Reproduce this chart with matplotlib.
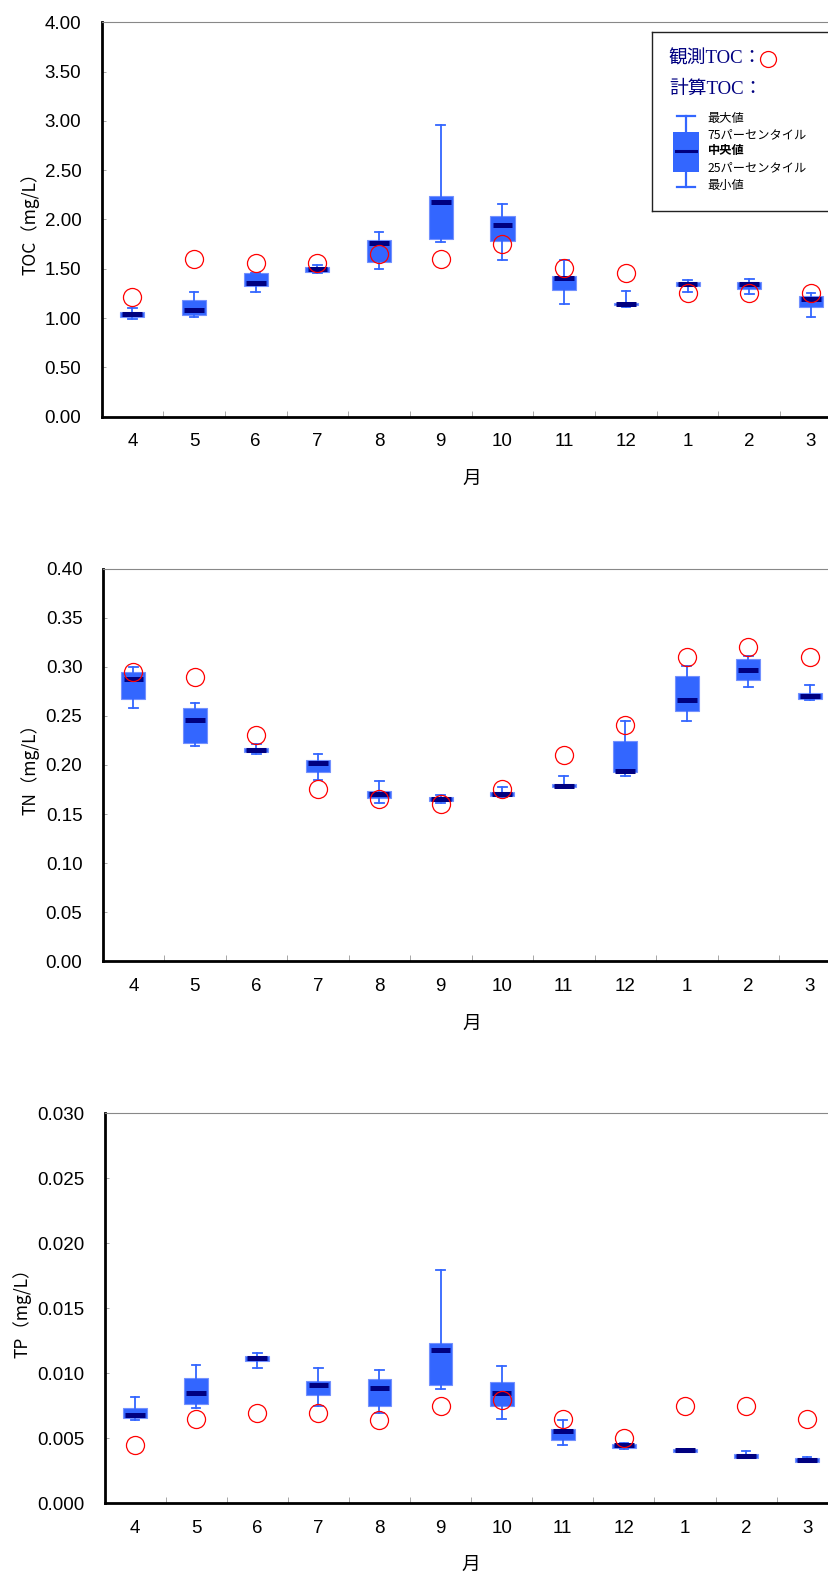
import numpy as np
import matplotlib
matplotlib.use('Agg')
import matplotlib.pyplot as plt
from matplotlib.patches import Rectangle

plt.rcParams['font.family'] = ['Liberation Sans', 'Noto Sans CJK JP']

months = ['4', '5', '6', '7', '8', '9', '10', '11', '12', '1', '2', '3']

# TOC (mg/L)
toc_max = [1.10, 1.26, 1.46, 1.535, 1.87, 2.96, 2.16, 1.59, 1.27, 1.39, 1.40, 1.25]
toc_q3 = [1.06, 1.18, 1.46, 1.52, 1.79, 2.24, 2.04, 1.43, 1.155, 1.37, 1.37, 1.22]
toc_med = [1.04, 1.08, 1.36, 1.495, 1.76, 2.18, 1.94, 1.41, 1.14, 1.35, 1.345, 1.19]
toc_q1 = [1.015, 1.03, 1.33, 1.47, 1.565, 1.805, 1.785, 1.28, 1.13, 1.33, 1.30, 1.11]
toc_min = [0.99, 1.01, 1.26, 1.46, 1.495, 1.77, 1.59, 1.14, 1.11, 1.265, 1.24, 1.01]
toc_obs = [1.21, 1.60, 1.555, 1.555, 1.655, 1.60, 1.755, 1.505, 1.46, 1.25, 1.25, 1.255]

# TN (mg/L)
tn_max = [0.300, 0.263, 0.221, 0.211, 0.184, 0.169, 0.178, 0.189, 0.245, 0.301, 0.311, 0.281]
tn_q3 = [0.295, 0.258, 0.217, 0.205, 0.173, 0.167, 0.172, 0.181, 0.224, 0.291, 0.308, 0.273]
tn_med = [0.287, 0.246, 0.215, 0.202, 0.170, 0.165, 0.170, 0.179, 0.194, 0.266, 0.297, 0.270]
tn_q1 = [0.267, 0.222, 0.213, 0.193, 0.166, 0.163, 0.168, 0.177, 0.1925, 0.255, 0.2865, 0.2675]
tn_min = [0.258, 0.219, 0.211, 0.185, 0.1615, 0.161, 0.167, 0.176, 0.189, 0.245, 0.279, 0.266]
tn_obs = [0.295, 0.290, 0.230, 0.175, 0.165, 0.160, 0.175, 0.210, 0.241, 0.310, 0.320, 0.310]

# TP (mg/L)
tp_max = [0.00818, 0.01066, 0.01156, 0.01041, 0.01028, 0.01795, 0.01056, 0.00643, 0.00466, 0.00420, 0.00405, 0.00356]
tp_q3 = [0.00731, 0.00964, 0.01131, 0.00943, 0.00954, 0.01235, 0.00933, 0.00572, 0.00458, 0.00420, 0.00380, 0.00351]
tp_med = [0.00677, 0.00846, 0.01115, 0.00908, 0.00887, 0.01177, 0.00846, 0.00554, 0.00446, 0.00408, 0.00364, 0.00333]
tp_q1 = [0.00659, 0.00766, 0.01097, 0.00831, 0.00748, 0.00908, 0.00749, 0.00487, 0.00423, 0.00392, 0.00350, 0.00318]
tp_min = [0.00640, 0.00736, 0.01038, 0.00751, 0.00697, 0.00877, 0.00646, 0.00446, 0.00415, 0.00392, 0.00350, 0.00318]
tp_obs = [0.00448, 0.00646, 0.00695, 0.00695, 0.00643, 0.00751, 0.00792, 0.00646, 0.00500, 0.00751, 0.00751, 0.00646]

BLUE = '#3366ff'
NAVY = '#000080'


def draw_panel(ax, lo, q1, med, q3, hi, obs, ymax, ystep, fmt, ylabel, ylab_x):
    pos = np.arange(len(months))
    stats = [dict(whislo=a, q1=b, med=c, q3=d, whishi=e)
             for a, b, c, d, e in zip(lo, q1, med, q3, hi)]
    ax.bxp(stats, positions=pos, widths=0.39, patch_artist=True, showfliers=False,
           capwidths=0.14,
           boxprops=dict(facecolor=BLUE, edgecolor='#7391ff', linewidth=0.8),
           whiskerprops=dict(color=BLUE, linewidth=1.3),
           capprops=dict(color=BLUE, linewidth=1.3),
           medianprops=dict(linewidth=0))
    ax.hlines(med, pos - 0.16, pos + 0.16, color=NAVY, linewidth=3.6, zorder=3)
    ax.plot(pos, obs, 'o', mfc='none', mec='red', ms=13, mew=0.9, zorder=4)

    ax.set_xlim(-0.5, len(months) - 0.5)
    ax.set_ylim(0, ymax)
    ticks = np.arange(0, ymax + ystep / 2, ystep)
    ax.set_yticks(ticks)
    ax.set_yticklabels([fmt.format(t) for t in ticks])
    ax.set_xticks(pos)
    ax.set_xticklabels(months)
    ax.set_xticks(pos[:-1] + 0.5, minor=True)
    ax.tick_params(axis='y', direction='in', length=3, width=0.6, color='#999999',
                   labelsize=13.5, pad=14.5)
    ax.tick_params(axis='x', which='major', length=0, labelsize=13.5, pad=12)
    ax.tick_params(axis='x', which='minor', direction='in', length=4, width=0.6,
                   color='#999999')

    ax.spines['left'].set_linewidth(2.0)
    ax.spines['bottom'].set_linewidth(2.0)
    ax.spines['top'].set_linewidth(0.8)
    ax.spines['top'].set_color('#888888')
    ax.spines['right'].set_visible(False)

    ax.set_ylabel(ylabel, fontsize=12.5, family='Noto Sans CJK JP')
    ax.yaxis.set_label_coords(ylab_x, 0.5)
    ax.set_xlabel('月', fontsize=13.5, family='Noto Sans CJK JP')
    ax.xaxis.set_label_coords(0.5, -0.131)


fig = plt.figure(figsize=(8.29, 15.78), dpi=100)
ax1 = fig.add_axes([0.12244, 0.73593, 0.89300, 0.24994])
ax2 = fig.add_axes([0.12376, 0.39081, 0.89011, 0.24892])
ax3 = fig.add_axes([0.12606, 0.04734, 0.88444, 0.24715])

draw_panel(ax1, toc_min, toc_q1, toc_med, toc_q3, toc_max, toc_obs,
           4.0, 0.5, '{:.2f}', 'TOC（mg/L）', -0.084)
draw_panel(ax2, tn_min, tn_q1, tn_med, tn_q3, tn_max, tn_obs,
           0.40, 0.05, '{:.2f}', 'TN（mg/L）', -0.085)
draw_panel(ax3, tp_min, tp_q1, tp_med, tp_q3, tp_max, tp_obs,
           0.030, 0.005, '{:.3f}', 'TP（mg/L）', -0.099)

# legend panel
lax = ax1.inset_axes([0.743, 0.522, 0.257, 0.453])
lax.set_xlim(0, 1)
lax.set_ylim(0, 1)
lax.set_xticks([])
lax.set_yticks([])
for side in ['left', 'top', 'bottom']:
    lax.spines[side].set_linewidth(1.0)
    lax.spines[side].set_color('#222222')
lax.spines['right'].set_visible(False)

serif = ['Liberation Serif', 'Noto Sans CJK JP']
lax.text(0.091, 0.850, '観測TOC：', color=NAVY, fontsize=13.5, family=serif, va='center')
lax.plot([0.61], [0.850], 'o', mfc='none', mec='red', ms=11.5, mew=0.9)
lax.text(0.091, 0.682, '計算TOC：', color=NAVY, fontsize=13.5, family=serif, va='center')

cx = 0.181
lax.plot([cx, cx], [0.133, 0.532], color=BLUE, lw=1.6, zorder=1)
lax.plot([cx - 0.048, cx + 0.048], [0.532, 0.532], color=BLUE, lw=1.6)
lax.plot([cx - 0.048, cx + 0.048], [0.133, 0.133], color=BLUE, lw=1.6)
lax.add_patch(Rectangle((cx - 0.066, 0.219), 0.132, 0.223, facecolor=BLUE,
                        edgecolor='none', zorder=2))
lax.plot([cx - 0.053, cx + 0.053], [0.336, 0.336], color=NAVY, lw=2.2, zorder=3)

leg_labels = ['最大値', '75パーセンタイル', '中央値', '25パーセンタイル', '最小値']
leg_y = [0.518, 0.424, 0.336, 0.241, 0.144]
for lab, yy in zip(leg_labels, leg_y):
    lax.text(0.296, yy, lab, fontsize=8.8, va='center', family='Noto Sans CJK JP',
             fontweight='bold' if lab == '中央値' else 'normal')

fig.savefig('out.png', dpi=100)
